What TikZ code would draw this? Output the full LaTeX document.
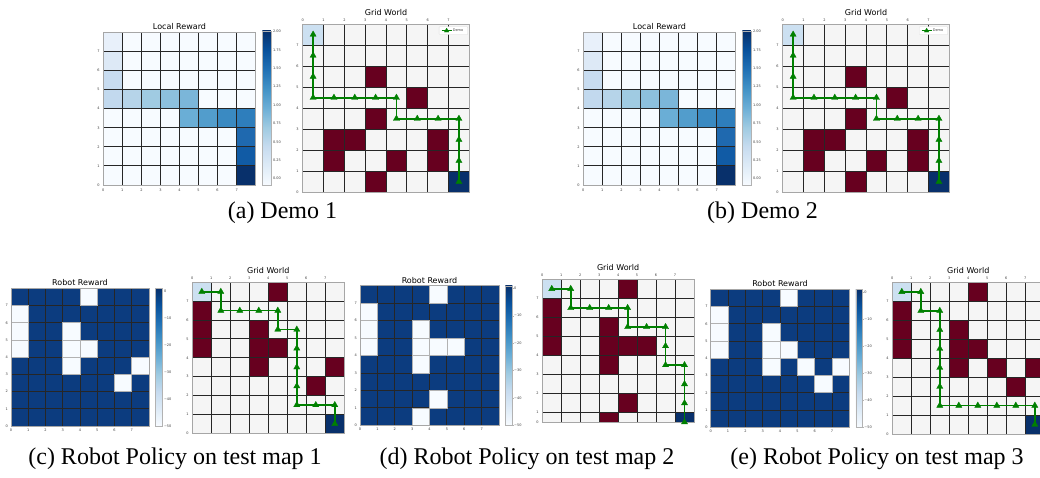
\documentclass[tikz,border=0pt]{standalone}
\usepackage{fontspec}
\setmainfont{Liberation Serif}
\newfontfamily\plotfont{DejaVu Sans}
\usepackage{tikz}
\usetikzlibrary{plotmarks}

\definecolor{b0}{HTML}{F7FBFF}
\definecolor{b1}{HTML}{DEEBF7}
\definecolor{b2}{HTML}{C6DBEF}
\definecolor{b3}{HTML}{9ECAE1}
\definecolor{b4}{HTML}{6BAED6}
\definecolor{b5}{HTML}{4292C6}
\definecolor{b6}{HTML}{2171B5}
\definecolor{b7}{HTML}{08519C}
\definecolor{b8}{HTML}{08306B}
\definecolor{freecell}{HTML}{F5F5F5}
\definecolor{startcell}{HTML}{CCE0F1}
\definecolor{goalcell}{HTML}{08306B}
\definecolor{wallcell}{HTML}{67001F}
\definecolor{navycell}{HTML}{0C3C7F}
\definecolor{demogreen}{HTML}{008000}
\definecolor{lra}{HTML}{E8F0FA}
\definecolor{lrb}{HTML}{DDE9F6}
\definecolor{lrc}{HTML}{C8DCF0}
\definecolor{lrd}{HTML}{C2D9EE}
\definecolor{lre}{HTML}{B6D4E9}
\definecolor{lrf}{HTML}{A0CBE2}
\definecolor{lrg}{HTML}{8DC0DD}
\definecolor{lrh}{HTML}{7BB6D9}
\definecolor{lri}{HTML}{6AAED6}
\definecolor{lrj}{HTML}{529DCC}
\definecolor{lrk}{HTML}{3A8AC2}
\definecolor{lrl}{HTML}{2E7EBC}
\definecolor{lrm}{HTML}{1F69AF}
\definecolor{lrn}{HTML}{115BA5}
\definecolor{lro}{HTML}{08306B}

\pgfdeclareverticalshading{blues}{100bp}{color(0bp)=(b0); color(25bp)=(b0); color(31.25bp)=(b1); color(37.5bp)=(b2); color(43.75bp)=(b3); color(50bp)=(b4); color(56.25bp)=(b5); color(62.5bp)=(b6); color(68.75bp)=(b7); color(75bp)=(b8); color(100bp)=(b8)}

\newcommand{\bottomticks}{\foreach \i in {0,...,7} \node[ticklbl] (xb\i) at (\i,-0.25) {\i};}
\newcommand{\topticks}{\foreach \i in {0,...,7} \node[ticklbl] (xt\i) at (\i,8.2) {\i};}
\newcommand{\leftticks}[1][0]{\foreach \i in {1,...,7} \node[ticklbl] (yl\i) at (-0.25,\i) {\i}; \node[ticklbl] (yl0) at (-0.25,#1) {0};}
\newcommand{\cellgrid}{\foreach \i in {1,...,7} {\draw[gridln] (\i,0) -- (\i,8); \draw[gridln] (0,\i) -- (8,\i);}}

\newcommand{\localreward}{%
  \fill[b0] (0,0) rectangle (8,8);
  \foreach \cx/\cy/\s in {0/7/lra, 0/6/lrb, 0/5/lrc, 0/4/lrd, 1/4/lre, 2/4/lrf, 3/4/lrg, 4/4/lrh,
                          4/3/lri, 5/3/lrj, 6/3/lrk, 7/3/lrl, 7/2/lrm, 7/1/lrn, 7/0/lro}
    \fill[\s] (\cx,\cy) rectangle ++(1,1);
  \cellgrid
  \draw[gridbrd] (0,0) rectangle (8,8);
  \shade[shading=blues] (8.35,0) rectangle (8.8,8.08);
  \draw[cbframe] (8.35,0) rectangle (8.8,8.08);
  \foreach \v [count=\k from 0] in {0.00,0.25,0.50,0.75,1.00,1.25,1.50,1.75,2.00} {
    \draw[cbframe] (8.8,0.33+0.964*\k) -- ++(0.08,0);
    \node[ticklbl, anchor=west] (lb\k) at (8.9,0.33+0.964*\k) {\v};
  }
  \bottomticks \leftticks
  \node[ttl, anchor=base, yshift=2.6pt] (lrtitle) at (4,8) {Local Reward};
}

\newcommand{\robotreward}[1]{%
  \fill[navycell] (0,0) rectangle (8,8);
  \cellgrid
  \foreach \cx/\cy in {#1} \filldraw[lowcell] (\cx,\cy) rectangle ++(1,1);
  \draw[gridbrd] (0,0) rectangle (8,8);
  \shade[shading=blues] (8.37,0) rectangle (8.76,8);
  \draw[cbframe] (8.37,0) rectangle (8.76,8);
  \foreach \v [count=\k from 0] in {−50,−40,−30,−20,−10,0} {
    \draw[cbframe] (8.76,\k*1.57) -- ++(0.08,0);
    \node[ticklbl, anchor=west] (rb\k) at (8.86,\k*1.57) {\v};
  }
  \bottomticks \leftticks
  \node[ttl, anchor=base, yshift=2.6pt] (rrtitle) at (4,8) {Robot Reward};
}

\newcommand{\gridworld}[3][0]{%
  \begin{scope}
    \clip (0,#1) rectangle (8,8);
    \fill[freecell] (0,0) rectangle (8,8);
    \fill[startcell] (0,7) rectangle (1,8);
    \fill[goalcell] (7,0) rectangle (8,1);
    \foreach \cx/\cy in {#2} \fill[wallcell] (\cx,\cy) rectangle ++(1,1);
    \cellgrid
  \end{scope}
  \draw[gridbrd] (0,#1) rectangle (8,8);
  \draw[demo] plot coordinates {#3};
  \topticks \leftticks[#1]
  \node[ttl, anchor=base, yshift=8.6pt] (gwtitle) at (4,8) {Grid World};
}

\begin{document}
\begin{tikzpicture}[x=1pt, y=-1pt,
  ttl/.style={font=\plotfont\fontsize{8}{9}\selectfont, inner sep=0pt},
  ticklbl/.style={font=\plotfont\fontsize{3.5}{4}\selectfont, inner sep=0pt, text=black!75},
  captxt/.style={font=\fontsize{24}{28}\selectfont, inner sep=0pt},
  gridln/.style={black!85, line width=0.9pt},
  gridbrd/.style={gray!70, line width=0.9pt},
  lowcell/.style={fill=b0, draw=gray!60, line width=0.7pt},
  cbframe/.style={gray!60, line width=0.4pt},
  legbox/.style={fill=white, draw=black!15, line width=0.3pt, rounded corners=0.6pt},
  demo/.style={draw=demogreen, line width=1.8pt, mark=triangle*, mark size=3.6pt,
    mark options={solid, fill=demogreen, draw=demogreen, line width=0.3pt}}]

\useasboundingbox (0,0) rectangle (1040,477);
\clip (0,0) rectangle (1040,477);
\fill[white] (0,0) rectangle (1040,477);

\foreach \dx in {0,480} {
  \begin{scope}[shift={(103.3+\dx,185)}, x=19.05pt, y=19.09pt]
    \localreward
  \end{scope}
  \begin{scope}[shift={(302.7+\dx,192.3)}, x=20.83pt, y=21.04pt]
    \gridworld{3/5, 5/4, 3/3, 1/2, 2/2, 6/2, 1/1, 4/1, 6/1, 3/0}
      {(0.5,7.5) (0.5,6.5) (0.5,5.5) (0.5,4.5) (1.5,4.5) (2.5,4.5) (3.5,4.5) (4.5,4.5)
       (4.5,3.5) (5.5,3.5) (6.5,3.5) (7.5,3.5) (7.5,2.5) (7.5,1.5) (7.5,0.5)}
    \draw[legbox] (6.55,7.5) rectangle (7.92,7.87);
    \draw[demo, mark indices={2}, mark size=2.6pt, line width=1.4pt] plot coordinates {(6.67,7.68) (6.91,7.68) (7.15,7.68)};
    \node[ticklbl, anchor=west] (legtxt) at (7.2,7.68) {Demo};
  \end{scope}
}

\node[captxt] (capa) at (282.5,213) {(a) Demo 1};
\node[captxt] (capb) at (762.5,213) {(b) Demo 2};

\begin{scope}[shift={(11,426)}, x=17.25pt, y=17.21pt]
  \robotreward{4/7, 0/6, 0/5, 0/4, 3/5, 3/4, 4/4, 3/3, 7/3, 6/2}
\end{scope}
\begin{scope}[shift={(192.3,433.3)}, x=19pt, y=18.88pt]
  \gridworld{4/7, 0/6, 0/5, 0/4, 3/5, 3/4, 4/4, 3/3, 7/3, 6/2}
    {(0.5,7.5) (1.5,7.5) (1.5,6.5) (2.5,6.5) (3.5,6.5) (4.5,6.5) (4.5,5.5) (5.5,5.5)
     (5.5,4.5) (5.5,3.5) (5.5,2.5) (5.5,1.5) (6.5,1.5) (7.5,1.5) (7.5,0.5)}
\end{scope}

\begin{scope}[shift={(360,425.3)}, x=17.38pt, y=17.45pt]
  \robotreward{4/7, 0/6, 0/5, 0/4, 3/5, 3/4, 4/4, 5/4, 3/3, 4/1, 3/0}
\end{scope}
\begin{scope}[shift={(542.3,431.7)}, x=18.96pt, y=19.05pt]
  \gridworld[0.5]{4/7, 0/6, 0/5, 0/4, 3/5, 3/4, 4/4, 5/4, 3/3, 4/1, 3/0}
    {(0.5,7.5) (1.5,7.5) (1.5,6.5) (2.5,6.5) (3.5,6.5) (4.5,6.5) (4.5,5.5) (5.5,5.5)
     (6.5,5.5) (6.5,4.5) (6.5,3.5) (7.5,3.5) (7.5,2.5) (7.5,1.5) (7.5,0.5)}
\end{scope}

\begin{scope}[shift={(710.7,427.3)}, x=17.33pt, y=17.25pt]
  \robotreward{4/7, 0/6, 0/5, 0/4, 3/5, 3/4, 4/4, 3/3, 5/3, 7/3, 6/2}
\end{scope}
\begin{scope}[shift={(892.3,434)}, x=19pt, y=18.96pt]
  \gridworld{4/7, 0/6, 0/5, 0/4, 3/5, 3/4, 4/4, 3/3, 5/3, 7/3, 6/2}
    {(0.5,7.5) (1.5,7.5) (1.5,6.5) (2.5,6.5) (2.5,5.5) (2.5,4.5) (2.5,3.5) (2.5,2.5)
     (2.5,1.5) (3.5,1.5) (4.5,1.5) (5.5,1.5) (6.5,1.5) (7.5,1.5) (7.5,0.5)}
\end{scope}

\node[captxt] (capc) at (175,459) {(c) Robot Policy on test map 1};
\node[captxt] (capd) at (527,459) {(d) Robot Policy on test map 2};
\node[captxt] (cape) at (877,459) {(e) Robot Policy on test map 3};

\end{tikzpicture}
\end{document}
